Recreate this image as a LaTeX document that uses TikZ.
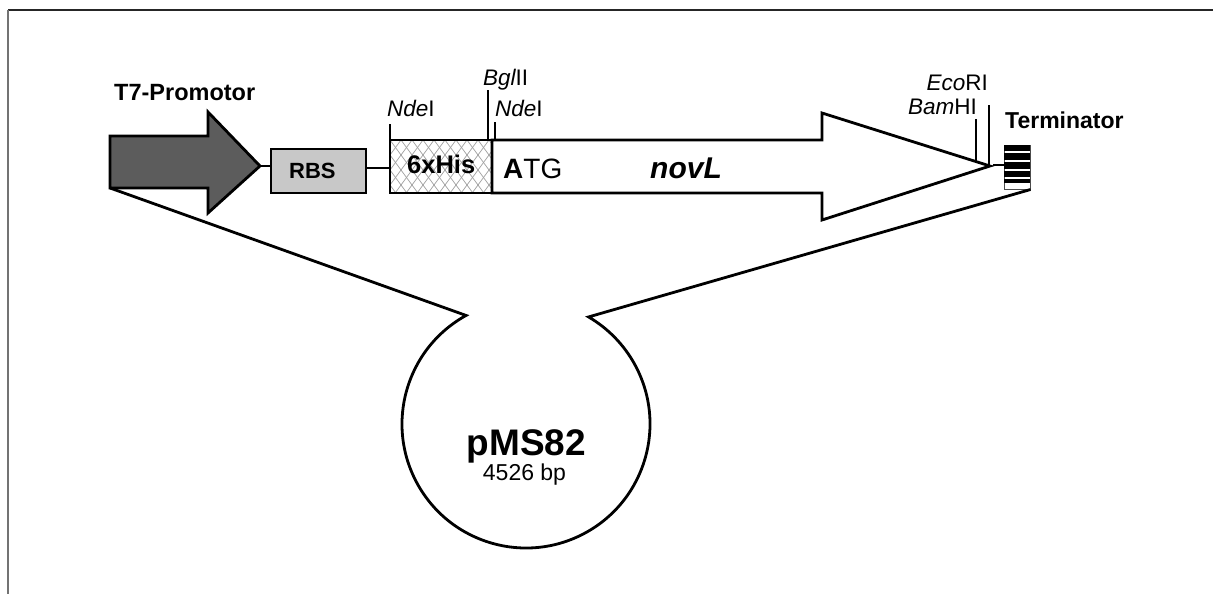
\documentclass[tikz,border=0pt]{standalone}
\usepackage{fontspec}
\setmainfont{Liberation Sans}
\usetikzlibrary{calc}
\newcommand\sz[1]{\fontsize{#1}{#1}\selectfont}
\definecolor{promo}{HTML}{5C5C5C}
\definecolor{rbsgray}{HTML}{C8C8C8}
\definecolor{hatchgray}{HTML}{A0A0A0}
\tikzset{
  outline/.style={draw=black, line width=2.8pt, line join=miter},
  link/.style={draw=black, line width=2.6pt},
  tick/.style={draw=black, line width=2.8pt},
  txt/.style={anchor=base west, inner sep=0pt},
  site/.style={txt, font=\sz{22.5}},
  siteR/.style={anchor=base east, inner sep=0pt, font=\sz{22.5}},
  boxed/.style={draw=black, line width=2pt, inner sep=0pt},
}
\begin{document}
\begin{tikzpicture}[x=1pt,y=-1pt]
\useasboundingbox (0,0) rectangle (1213,594);

% frame lines
\draw[line width=1.5pt, black!85] (8,10) -- (1213,10);
\draw[line width=2pt, black!55] (8,10) -- (8,594);

% T7 promoter arrow
\draw[outline, fill=promo] (110,136) -- (208,136) -- (208,112) -- (260,166)
  -- (208,213) -- (208,188) -- (110,188) -- cycle;
\coordinate (t7tip) at (260,166);
\coordinate (t7base) at (110,188);
\node[txt, font=\bfseries\sz{23.5}] (t7lab) at (114,100) {T7-Promotor};

% ribosome binding site
\node[boxed, fill=rbsgray, minimum width=95pt, minimum height=44pt] (rbs) at (318.5,171) {};
\node[txt, font=\bfseries\sz{22}] (rbslab) at (289,178) {RBS};
\draw[link] (t7tip) -- (t7tip -| rbs.west);

% His tag with diagonal hatching
\node[boxed, fill=white, minimum width=102pt, minimum height=53pt,
  path picture={
    \foreach \n in {-6,...,16}{
      \draw[hatchgray, line width=0.7pt]
        ($(path picture bounding box.north west)+(\n*11,0)$) -- ++(-66,90);
      \draw[hatchgray, line width=0.7pt]
        ($(path picture bounding box.north west)+(\n*11,0)$) -- ++(66,90);
    }
  }] (his) at (441,166.5) {};
\node[txt, font=\bfseries\sz{25.5}] (hislab) at (407,173.3) {6xHis};
\draw[link] ($(rbs.east)+(0,-3)$) coordinate (rbsout) -- (rbsout -| his.west);

% novL gene arrow
\draw[outline, fill=white] (492,140) -- (822,140) -- (822,113) -- (990,166)
  -- (822,220) -- (822,193) -- (492,193) -- cycle;
\node[txt, font=\sz{28}] (atg) at (503,178) {\textbf{A}TG};
\node[txt, font=\bfseries\itshape\sz{30}] (nov) at (650,178) {novL};

% restriction sites
\coordinate (ndeAcut) at (390,140);
\coordinate (bglcut) at (488,140);
\coordinate (ndeBcut) at (495,140);
\coordinate (bamcut) at (976,161.6);
\coordinate (ecocut) at (989,166);
\draw[tick] (ndeAcut) -- ++(0,-16);
\draw[tick] (bglcut) -- ++(0,-50);
\draw[tick] (ndeBcut) -- ++(0,-18);
\draw[tick] (bamcut) -- (976,119);
\draw[tick] (ecocut) -- (989,105);
\node[site] (ndeA) at (387,117) {\itshape Nde\upshape I};
\node[site] (bgl) at (483,85) {\itshape Bgl\upshape II};
\node[site] (ndeB) at (495,117) {\itshape Nde\upshape I};
\node[siteR] (eco) at (988,91) {\itshape Eco\upshape RI};
\node[siteR] (bam) at (977,114) {\itshape Bam\upshape HI};

% terminator
\node[draw=black!70, line width=1pt, fill=white, inner sep=0pt,
  minimum width=26pt, minimum height=44pt] (tbox) at (1017,167) {};
\foreach \a/\b in {145/151, 153/160, 162/168.5, 170.5/177, 179/183}{
  \fill[black] (1004,\a) rectangle (1030,\b);
}
\node[txt, font=\bfseries\sz{23}] (term) at (1005,128) {Terminator};
\coordinate (geneend) at (993,165);
\draw[link] (geneend) -- (geneend -| tbox.west);

% plasmid backbone
\coordinate (pc) at (526,424);
\draw[outline] (t7base) -- ($(pc)+(118.9:124pt)$)
  arc[start angle=118.9, end angle=419.7, radius=124pt] -- (tbox.south east);
\node[anchor=base, inner sep=0pt, font=\bfseries\sz{37}] (pname) at (526.5,455) {pMS82};
\node[anchor=base, inner sep=0pt, font=\sz{23}] (psize) at (524.5,480) {4526 bp};
\end{tikzpicture}
\end{document}
